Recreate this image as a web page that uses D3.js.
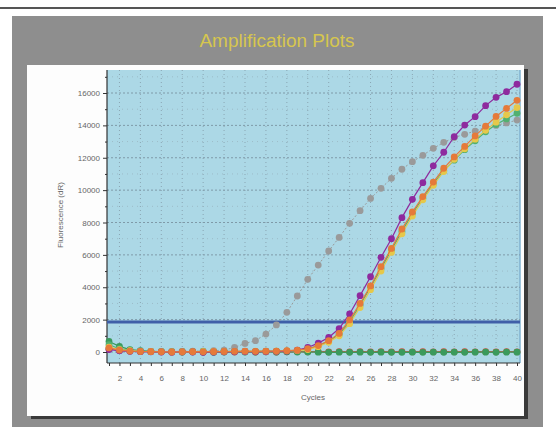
<!DOCTYPE html>
<html><head><meta charset="utf-8">
<script src="https://cdn.jsdelivr.net/npm/d3@7"></script>
<style>body{margin:0;background:#fff}svg{display:block}</style>
</head><body>
<script>
const cycles = [1,2,3,4,5,6,7,8,9,10,11,12,13,14,15,16,17,18,19,20,21,22,23,24,25,26,27,28,29,30,31,32,33,34,35,36,37,38,39,40];
const xTicks = [2,4,6,8,10,12,14,16,18,20,22,24,26,28,30,32,34,36,38,40];
const yTicks = [0,2000,4000,6000,8000,10000,12000,14000,16000];
const threshold = 1850;

const flatRed = [200,100,60,30,20,10,0,0,10,0,0,10,0,10,0,10,0,10,20,10,20,10,20,10,20,10,20,10,20,10,20,10,20,10,20,10,20,10,20,10];
const flatGreen = [650,350,150,80,40,20,10,0,10,0,-10,0,10,0,0,10,0,10,0,0,-10,-20,-10,-20,-10,-20,-10,-20,-20,-10,-20,-10,-20,-10,-20,-10,-10,-20,-10,-10];
const gray = [200,100,60,40,30,20,30,40,50,60,80,120,280,530,700,1110,1670,2450,3460,4490,5370,6240,7080,7950,8730,9490,10110,10730,11290,11760,12150,12580,12950,13250,13450,13650,13880,14000,14150,14330];
const greenAmp = [450,200,100,60,40,30,20,30,20,30,20,30,40,30,40,50,50,70,100,180,380,650,1100,1850,2900,4000,5150,6300,7450,8550,9500,10400,11200,11850,12500,13050,13600,14050,14400,14750];
const yellow = [300,150,80,40,30,20,10,20,10,20,30,20,30,40,50,40,60,70,90,150,330,600,1000,1750,2750,3850,5000,6150,7300,8400,9400,10300,11150,11900,12550,13150,13700,14200,14650,15100];
const purple = [150,80,40,20,10,0,-10,10,0,-20,0,10,20,30,20,30,40,60,120,280,550,900,1450,2350,3480,4650,5850,7000,8300,9430,10460,11500,12340,13300,14020,14540,15220,15730,16080,16540];
const orange = [250,120,60,30,20,10,0,10,20,10,20,30,40,50,40,50,60,80,110,200,400,700,1150,1980,3000,4080,5270,6400,7600,8650,9600,10500,11350,12050,12700,13350,13950,14550,15050,15550];

const seriesNames = ["flatRed","flatGreen","gray","greenAmp","yellow","purple","orange"];
const seriesValues = [flatRed, flatGreen, gray, greenAmp, yellow, purple, orange];
const seriesColors = ["#c8503a","#3a9a5c","#9a9a9a","#52b070","#e6c84a","#8e2a9e","#e57a3a"];

(function(){
const W = 556, H = 434;
const svg = d3.select("body").append("svg").attr("width", W).attr("height", H);

svg.append("rect").attr("x",0).attr("y",7).attr("width",W).attr("height",2).attr("fill","#555");
svg.append("rect").attr("x",12).attr("y",16).attr("width",531).attr("height",411).attr("fill","#8e8e8e");
svg.append("rect").attr("x",31).attr("y",69).attr("width",497).attr("height",350).attr("fill","#3a3a3a");
svg.append("rect").attr("x",27).attr("y",65).attr("width",497).attr("height",351).attr("fill","#fdfdfd");

svg.append("text").attr("x",277).attr("y",47).attr("text-anchor","middle")
  .attr("font-family","Liberation Sans, Arial, sans-serif").attr("font-size",19)
  .attr("fill","#d6c64e").text("Amplification Plots");

const pL = 107, pR = 520, pT = 70, pB = 363;
const x = d3.scaleLinear().domain([1,40]).range([109,517]);
const y = d3.scaleLinear().domain([0,16000]).range([352,93]);

svg.append("rect").attr("x",pL).attr("y",pT).attr("width",pR-pL).attr("height",pB-pT).attr("fill","#acd8e6");
svg.append("line").attr("x1",pR).attr("x2",pR).attr("y1",pT).attr("y2",pB).attr("stroke","#7fb2d0").attr("stroke-width",1.5);

const minorY = [1000,3000,5000,7000,9000,11000,13000,15000,17000];
const g = svg.append("g");
g.selectAll("line.v").data(xTicks).join("line")
  .attr("x1",d=>x(d)).attr("x2",d=>x(d)).attr("y1",pT).attr("y2",pB)
  .attr("stroke","#8aa6b3").attr("stroke-width",1).attr("stroke-dasharray","1,3");
g.selectAll("line.h").data(yTicks.concat(minorY)).join("line")
  .attr("x1",pL).attr("x2",pR).attr("y1",d=>y(d)).attr("y2",d=>y(d))
  .attr("stroke",d=>d%2000===0?"#7f9aa8":"#9dbcc8").attr("stroke-width",1).attr("stroke-dasharray",d=>d%2000===0?"2,2":"1,4");

const font = "Liberation Sans, Arial, sans-serif";
const yAxis = d3.axisLeft(y).tickValues(yTicks).tickSize(4).tickPadding(3).tickFormat(d3.format("d"));
const ya = svg.append("g").attr("transform",`translate(${pL},0)`).call(yAxis);
const yMinor = d3.axisLeft(y).tickValues(minorY).tickSize(2).tickFormat("");
const ym = svg.append("g").attr("transform",`translate(${pL},0)`).call(yMinor);
[ya, ym].forEach(a => { a.select(".domain").remove(); a.selectAll("line").attr("stroke","#333"); });
ya.selectAll("text").attr("font-family",font).attr("font-size",8).attr("fill","#666");
svg.append("line").attr("x1",pL).attr("x2",pL).attr("y1",pT).attr("y2",pB).attr("stroke","#333").attr("stroke-width",1.2);

const xAxis = d3.axisBottom(x).tickValues(xTicks).tickSize(0).tickPadding(12).tickFormat(d3.format("d"));
const xa = svg.append("g").attr("transform",`translate(0,${pB})`).call(xAxis);
xa.select(".domain").remove();
xa.selectAll("text").attr("font-family",font).attr("font-size",8).attr("fill","#666");
const xMinor = d3.axisBottom(x).tickValues(cycles).tickSize(3).tickFormat("");
const xm = svg.append("g").attr("transform",`translate(0,${pB})`).call(xMinor);
xm.select(".domain").remove(); xm.selectAll("line").attr("stroke","#333");
svg.append("line").attr("x1",pL).attr("x2",pR).attr("y1",pB).attr("y2",pB).attr("stroke","#333").attr("stroke-width",1.2);

svg.append("text").attr("x",313).attr("y",400).attr("text-anchor","middle")
  .attr("font-family",font).attr("font-size",8).attr("fill","#666").text("Cycles");
svg.append("text").attr("transform","translate(63,215) rotate(-90)").attr("text-anchor","middle")
  .attr("font-family",font).attr("font-size",8).attr("fill","#666").text("Fluorescence (dR)");

svg.append("line").attr("x1",pL).attr("x2",pR).attr("y1",y(threshold)).attr("y2",y(threshold))
  .attr("stroke","#3f5fa8").attr("stroke-width",3);

const line = d3.line().x((d,i)=>x(cycles[i])).y(d=>y(d));
seriesValues.forEach((vals, si) => {
  const c = seriesColors[si];
  const sg = svg.append("g");
  sg.append("path").datum(vals).attr("d", line).attr("fill","none").attr("stroke", c)
    .attr("stroke-width", seriesNames[si]==="gray" ? 1 : 1.2)
    .attr("stroke-dasharray", seriesNames[si]==="gray" ? "2,2" : null);
  sg.selectAll("circle").data(vals).join("circle")
    .attr("cx",(d,i)=>x(cycles[i])).attr("cy",d=>y(d)).attr("r",3.4).attr("fill",c);
});
})();
</script>
</body></html>
